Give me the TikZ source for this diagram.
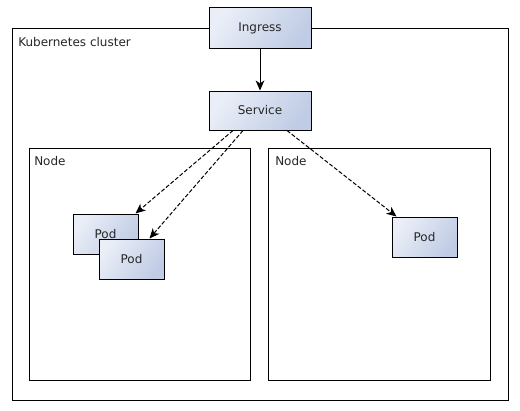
\documentclass[tikz,border=0pt]{standalone}
\usepackage{fontspec}
\setmainfont{DejaVu Sans}
\usetikzlibrary{arrows.meta,calc}
\definecolor{boxlight}{HTML}{EAEEF7}
\definecolor{boxdark}{HTML}{C0CCE5}
\tikzset{
  box/.style={draw=black, line width=0.75pt, top color=boxlight, bottom color=boxdark, shading angle=55,
    inner sep=0pt, font=\fontsize{9pt}{10.5pt}\selectfont, text=black!85},
  container/.style={draw=black, line width=0.75pt, fill=white, inner sep=0pt},
  lbl/.style={anchor=west, inner sep=0pt, font=\fontsize{9pt}{10.5pt}\selectfont, text=black!85},
  solidarrow/.style={line width=0.75pt, -{Stealth[length=7.5pt,width=6.5pt,inset=2.2pt]}},
  dasharrow/.style={line width=0.75pt, dash pattern=on 3pt off 1.5pt, -{Stealth[length=7.5pt,width=6.5pt,inset=2.2pt]}},
}
\begin{document}
\begin{tikzpicture}[x=0.75pt,y=-0.75pt]
\useasboundingbox (0,0) rectangle (520,410);
% containers
\node[container, minimum width=496*0.75pt, minimum height=371*0.75pt] (cluster) at (260,214.5) {};
\node[lbl] (clusterlbl) at (18,42) {Kubernetes cluster};
\node[container, minimum width=221*0.75pt, minimum height=232*0.75pt] (nodeA) at (139.5,264) {};
\node[lbl] (nodeAlbl) at (34,161) {Node};
\node[container, minimum width=222*0.75pt, minimum height=232*0.75pt] (nodeB) at (379,264) {};
\node[lbl] (nodeBlbl) at (275,161) {Node};
% boxes
\node[box, minimum width=102*0.75pt, minimum height=41*0.75pt] (ingress) at (260,28.5) {Ingress};
\node[box, minimum width=102*0.75pt, minimum height=39*0.75pt] (svc) at (260,110.5) {Service};
\node[box, minimum width=65*0.75pt, minimum height=40*0.75pt] (pod1) at (105.5,234) {Pod};
\node[box, minimum width=65*0.75pt, minimum height=40*0.75pt] (pod2) at (131.5,259) {Pod};
\node[box, minimum width=65*0.75pt, minimum height=40*0.75pt] (pod3) at (424.5,237) {Pod};
% connectors
\draw[solidarrow] (ingress.south) -- (svc.north);
\draw[dasharrow] ($(svc.south)+(-27,0)$) -- ($(pod1.north east)+(-3,0)$);
\draw[dasharrow] ($(svc.south)+(-17,0)$) -- ($(pod2.north)+(18,0)$);
\draw[dasharrow] ($(svc.south)+(27,0)$) -- ($(pod3.north west)+(5,0)$);
\end{tikzpicture}
\end{document}
